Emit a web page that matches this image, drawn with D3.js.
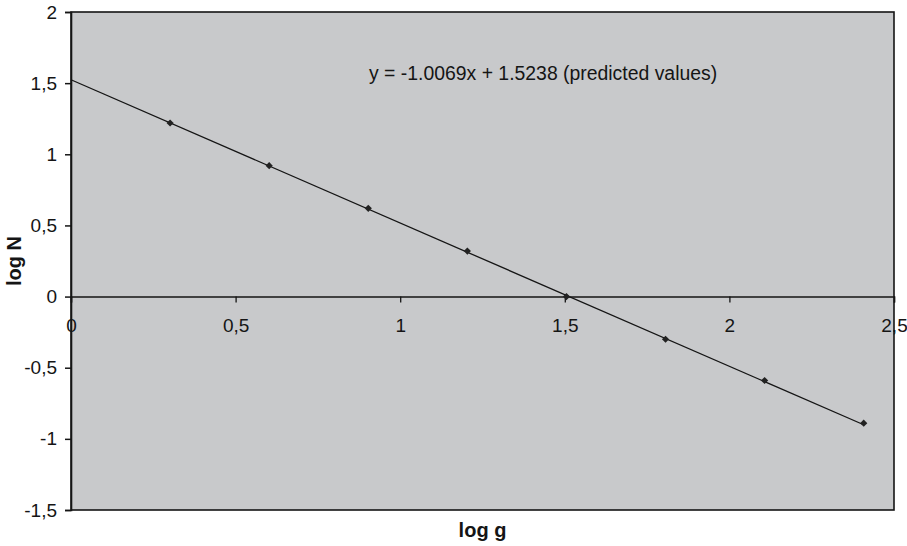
<!DOCTYPE html>
<html>
  <head>
    <meta charset="utf-8" />
    <title>log N vs log g</title>
    <style>
      body { margin: 0; background: #fff; }
      text { font-family: "Liberation Sans", Arial, sans-serif; fill: #151515; }
      .tick text { font-size: 19px; }
      .axis-title { font-size: 20px; font-weight: bold; }
      .eq { font-size: 19.4px; }
    </style>
  </head>
  <body>
    <svg width="907" height="546"></svg>

    <script src="https://d3js.org/d3.v7.min.js"></script>
    <script>
      // Data: log of group size (g) vs log of predicted N
      const logG = [0.301, 0.602, 0.903, 1.204, 1.505, 1.806, 2.107, 2.408];
      const logN = [1.22, 0.92, 0.62, 0.32, 0.0, -0.3, -0.59, -0.89];
      const xTicks = [0, 0.5, 1, 1.5, 2, 2.5];
      const yTicks = [-1.5, -1, -0.5, 0, 0.5, 1, 1.5, 2];
      const slope = -1.0069;
      const intercept = 1.5238;
      const equation = "y = -1.0069x + 1.5238 (predicted values)";

      const points = logG.map((x, i) => ({ x: x, y: logN[i] }));

      const svg = d3.select("svg");
      const plotLeft = 71, plotRight = 894, plotTop = 12, plotBottom = 510;

      const x = d3.scaleLinear().domain([0, 2.5]).range([plotLeft, plotRight]);
      const y = d3.scaleLinear().domain([-1.5, 2]).range([plotBottom, plotTop]);

      // comma decimal, hyphen minus
      const fmt = d3.formatLocale({
        decimal: ",", thousands: ".", grouping: [3], currency: ["", ""], minus: "-"
      }).format("");

      // plot background
      svg.append("rect")
        .attr("x", plotLeft).attr("y", plotTop)
        .attr("width", plotRight - plotLeft).attr("height", plotBottom - plotTop)
        .attr("fill", "#c8c9cb")
        .attr("stroke", "#151515")
        .attr("stroke-width", 1.6);

      // y axis
      const yAxis = svg.append("g")
        .attr("transform", `translate(${plotLeft},0)`)
        .call(d3.axisLeft(y).tickValues(yTicks).tickFormat(fmt).tickSize(6).tickPadding(8));
      yAxis.select(".domain").attr("stroke", "#151515").attr("stroke-width", 1.6);
      yAxis.selectAll(".tick line").attr("stroke", "#151515").attr("stroke-width", 1.5);

      // x axis at y = 0
      const xAxis = svg.append("g")
        .attr("transform", `translate(0,${y(0)})`)
        .call(d3.axisBottom(x).tickValues(xTicks).tickFormat(fmt).tickSize(6).tickPadding(16));
      xAxis.select(".domain").attr("stroke", "#151515").attr("stroke-width", 1.5);
      xAxis.selectAll(".tick line").attr("stroke", "#151515").attr("stroke-width", 1.3);

      // trend line from x = 0 to last point
      const xEnd = d3.max(logG);
      svg.append("line")
        .attr("x1", x(0)).attr("y1", y(intercept))
        .attr("x2", x(xEnd)).attr("y2", y(slope * xEnd + intercept))
        .attr("stroke", "#151515")
        .attr("stroke-width", 1.3);

      // diamond markers
      svg.append("g")
        .selectAll("path")
        .data(points)
        .join("path")
        .attr("transform", (d) => `translate(${x(d.x)},${y(d.y)}) rotate(45)`)
        .attr("d", d3.symbol(d3.symbolSquare, 26))
        .attr("fill", "#222");

      // equation label
      svg.append("text")
        .attr("class", "eq")
        .attr("x", 369)
        .attr("y", 80)
        .text(equation);

      // axis titles
      svg.append("text")
        .attr("class", "axis-title")
        .attr("text-anchor", "middle")
        .attr("x", (plotLeft + plotRight) / 2)
        .attr("y", 537)
        .text("log g");

      svg.append("text")
        .attr("class", "axis-title")
        .attr("text-anchor", "middle")
        .attr("transform", `translate(21,${(plotTop + plotBottom) / 2}) rotate(-90)`)
        .text("log N");
    </script>
  </body>
</html>
